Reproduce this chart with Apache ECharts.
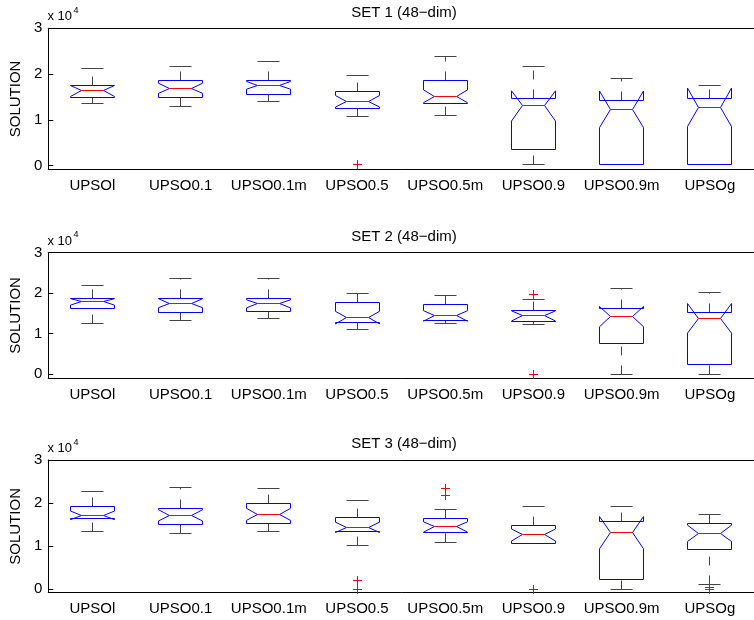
<!DOCTYPE html>
<html>
<head>
<meta charset="utf-8">
<script src="https://cdn.jsdelivr.net/npm/echarts@6/dist/echarts.min.js"></script>
<style>
html,body{margin:0;padding:0;background:#fff;}
#chart{width:754px;height:620px;}
</style>
</head>
<body>
<div id="chart"></div>
<script>
// ---------------- data ----------------
const categories = ['UPSOl', 'UPSO0.1', 'UPSO0.1m', 'UPSO0.5', 'UPSO0.5m', 'UPSO0.9', 'UPSO0.9m', 'UPSOg'];
const yTickValues = [0, 10000, 20000, 30000];
const yTickLabels = ['0', '1', '2', '3'];
const panelTitles = ['SET 1 (48\u2212dim)', 'SET 2 (48\u2212dim)', 'SET 3 (48\u2212dim)'];
const yAxisName = 'SOLUTION';

// SET 1
const set1Q1           = [14860, 14860, 15590, 12380, 13550,  3420,   150,   150];
const set1Median       = [16310, 16900, 17550, 14060, 15150, 13040, 12310, 12750];
const set1Q3           = [17480, 18570, 18650, 16170, 18500, 14570, 14130, 14710];
const set1Notch        = [ 1200,  1100,   850,  1250,  1400,  3300,  4000,  4200];
const set1WhiskerLow   = [13620, 12820, 13910, 10700, 11000,   150,   150,   150];
const set1WhiskerHigh  = [21120, 21630, 22650, 19660, 23820, 21550, 18940, 17410];
const set1Outliers     = [[3, 360]];

// SET 2
const set2Q1           = [16160, 15080, 15410, 12680, 13260, 12920,  7630,  2240];
const set2Median       = [17810, 17480, 17320, 13920, 14330, 14330, 14170, 13750];
const set2Q3           = [18640, 18720, 18720, 17730, 17070, 15580, 16160, 15240];
const set2Notch        = [  800,  1100,  1000,  1550,  1300,  1250,  2500,  3650];
const set2WhiskerLow   = [12590, 13260, 13590, 11100, 12430, 12100,     0,     0];
const set2WhiskerHigh  = [21790, 23530, 23530, 19970, 19300, 18310, 21200, 20060];
const set2Outliers     = [[5, 19550], [5, 0]];

// SET 3
const set3Q1           = [16430, 15040, 15120, 13330, 13100, 10470,  2250,  9300];
const set3Median       = [17130, 17130, 17360, 14340, 14420, 12560, 13100, 12950];
const set3Q3           = [19220, 18680, 19920, 16590, 16430, 14730, 15810, 15190];
const set3Notch        = [ 1000,  1300,  1400,  1200,  1200,  1400,  3750,  1900];
const set3WhiskerLow   = [13410, 12950, 13260, 10080, 10780, 10470,     0,  1090];
const set3WhiskerHigh  = [22790, 23640, 23260, 20620, 18530, 19300, 19150, 17360];
const set3Outliers     = [[3, 2090], [3, 0], [4, 23260], [4, 21780], [5, 0], [7, 0], [7, 300]];

// ---------------- layout / style ----------------
const FONT = '"Liberation Sans", Arial, Helvetica, sans-serif';
const layout = [
  {top: 28.3, height: 141.2, yMin: -840},
  {top: 252.5, height: 125.8, yMin: -1060},
  {top: 460, height: 132.7, yMin: -860}
];
const GRID_LEFT = 47, GRID_WIDTH = 714;
const BLUE = '#0000ff', RED = '#ff0000', WHISK = '#444444';

const sets = [
  {q1: set1Q1, med: set1Median, q3: set1Q3, notch: set1Notch, lo: set1WhiskerLow, hi: set1WhiskerHigh, out: set1Outliers},
  {q1: set2Q1, med: set2Median, q3: set2Q3, notch: set2Notch, lo: set2WhiskerLow, hi: set2WhiskerHigh, out: set2Outliers},
  {q1: set3Q1, med: set3Median, q3: set3Q3, notch: set3Notch, lo: set3WhiskerLow, hi: set3WhiskerHigh, out: set3Outliers}
];

function snap(v) { return Math.round(v - 0.5) + 0.5; }

function renderBox(params, api) {
  const i = api.value(0);
  const q1 = api.value(1), med = api.value(2), q3 = api.value(3), notch = api.value(4);
  const lo = api.value(5), hi = api.value(6);
  const cx = snap(api.coord([i, med])[0]);
  const band = api.size([1, 0])[0];
  const hw = band * 0.25;
  const y = v => api.coord([i, v])[1];
  const yq1 = snap(y(q1)), yq3 = snap(y(q3)), ym = snap(y(med));
  const ynlo = y(med - notch), ynhi = y(med + notch);
  const yl = snap(y(lo)), yh = snap(y(hi));
  const L = snap(cx - hw), R = snap(cx + hw);
  const children = [];
  const dash = [9, 10];
  if (hi > q3) children.push({type: 'line', shape: {x1: cx, y1: yq3, x2: cx, y2: yh}, style: {stroke: WHISK, lineWidth: 1, lineDash: dash}});
  if (lo < q1) children.push({type: 'line', shape: {x1: cx, y1: yl, x2: cx, y2: yq1}, style: {stroke: WHISK, lineWidth: 1, lineDash: dash}});
  children.push({type: 'line', shape: {x1: cx - hw / 2, y1: yh, x2: cx + hw / 2, y2: yh}, style: {stroke: WHISK, lineWidth: 1}});
  children.push({type: 'line', shape: {x1: cx - hw / 2, y1: yl, x2: cx + hw / 2, y2: yl}, style: {stroke: WHISK, lineWidth: 1}});
  children.push({
    type: 'polygon',
    shape: {points: [
      [L, yq1], [L, ynlo], [cx - hw / 2, ym], [L, ynhi], [L, yq3],
      [R, yq3], [R, ynhi], [cx + hw / 2, ym], [R, ynlo], [R, yq1]
    ]},
    style: {fill: 'none', stroke: BLUE, lineWidth: 1}
  });
  children.push({type: 'line', shape: {x1: cx - hw / 2, y1: ym, x2: cx + hw / 2, y2: ym}, style: {stroke: RED, lineWidth: 1}});
  return {type: 'group', children: children};
}

function renderOutlier(params, api) {
  const p = api.coord([api.value(0), api.value(1)]);
  const x = snap(p[0]), yv = snap(p[1]), s = 4.5;
  return {type: 'group', children: [
    {type: 'line', shape: {x1: x - s, y1: yv, x2: x + s, y2: yv}, style: {stroke: RED, lineWidth: 1}},
    {type: 'line', shape: {x1: x, y1: yv - s, x2: x, y2: yv + s}, style: {stroke: RED, lineWidth: 1}}
  ]};
}

const grid = [], xAxis = [], yAxis = [], series = [], graphic = [];
layout.forEach((g, k) => {
  grid.push({left: GRID_LEFT, width: GRID_WIDTH, top: g.top, height: g.height, containLabel: false});
  const tickStyle = {inside: true, length: 5, alignWithLabel: true, lineStyle: {color: '#000', width: 1}};
  xAxis.push({
    type: 'category', gridIndex: k, data: categories, boundaryGap: true, position: 'bottom',
    axisLine: {onZero: false, lineStyle: {color: '#000', width: 1}},
    axisTick: tickStyle,
    axisLabel: {color: '#000', fontSize: 15, fontFamily: FONT, margin: 9, interval: 0},
    splitLine: {show: false}
  });
  xAxis.push({
    type: 'category', gridIndex: k, data: categories, boundaryGap: true, position: 'top',
    axisLine: {onZero: false, lineStyle: {color: '#000', width: 1}},
    axisTick: tickStyle,
    axisLabel: {show: false},
    splitLine: {show: false}
  });
  yAxis.push({
    type: 'value', gridIndex: k, min: g.yMin, max: 30000,
    splitNumber: 3, minInterval: 10000, maxInterval: 10000,
    axisLine: {show: true, onZero: false, lineStyle: {color: '#000', width: 1}},
    axisTick: {show: true, inside: true, length: 5, lineStyle: {color: '#000'}, customValues: yTickValues},
    axisLabel: {
      color: '#000', fontSize: 15, fontFamily: FONT, margin: 6, customValues: yTickValues,
      formatter: v => { const idx = yTickValues.indexOf(v); return idx >= 0 ? yTickLabels[idx] : ''; }
    },
    splitLine: {show: false},
    name: yAxisName, nameLocation: 'middle', nameGap: 18, nameRotate: 90,
    nameTextStyle: {color: '#000', fontSize: 15, fontFamily: FONT}
  });
  const s = sets[k];
  const boxData = categories.map((c, i) => [i, s.q1[i], s.med[i], s.q3[i], s.notch[i], s.lo[i], s.hi[i]]);
  series.push({
    type: 'custom', xAxisIndex: 2 * k, yAxisIndex: k, data: boxData, renderItem: renderBox,
    encode: {x: 0, y: [1, 2, 3, 5, 6]}, silent: true, clip: false, z: 2
  });
  series.push({
    type: 'custom', xAxisIndex: 2 * k, yAxisIndex: k, data: s.out, renderItem: renderOutlier,
    encode: {x: 0, y: 1}, silent: true, clip: false, z: 5
  });
  // title
  graphic.push({type: 'text', x: GRID_LEFT + GRID_WIDTH / 2, y: g.top - 15.8,
    style: {text: panelTitles[k], fill: '#000', font: '15px ' + FONT, align: 'center', verticalAlign: 'middle'}});
  // exponent label
  graphic.push({type: 'text', x: GRID_LEFT + 0.5, y: g.top - 11.5,
    style: {text: 'x 10', fill: '#000', font: '13px ' + FONT, align: 'left', verticalAlign: 'middle'}});
  graphic.push({type: 'text', x: GRID_LEFT + 26.5, y: g.top - 17.5,
    style: {text: '4', fill: '#000', font: '9px ' + FONT, align: 'left', verticalAlign: 'middle'}});
});

const chart = echarts.init(document.getElementById('chart'), null, {renderer: 'canvas'});
chart.setOption({
  animation: false,
  backgroundColor: '#fff',
  grid: grid, xAxis: xAxis, yAxis: yAxis, series: series, graphic: graphic
});
</script>
</body>
</html>
